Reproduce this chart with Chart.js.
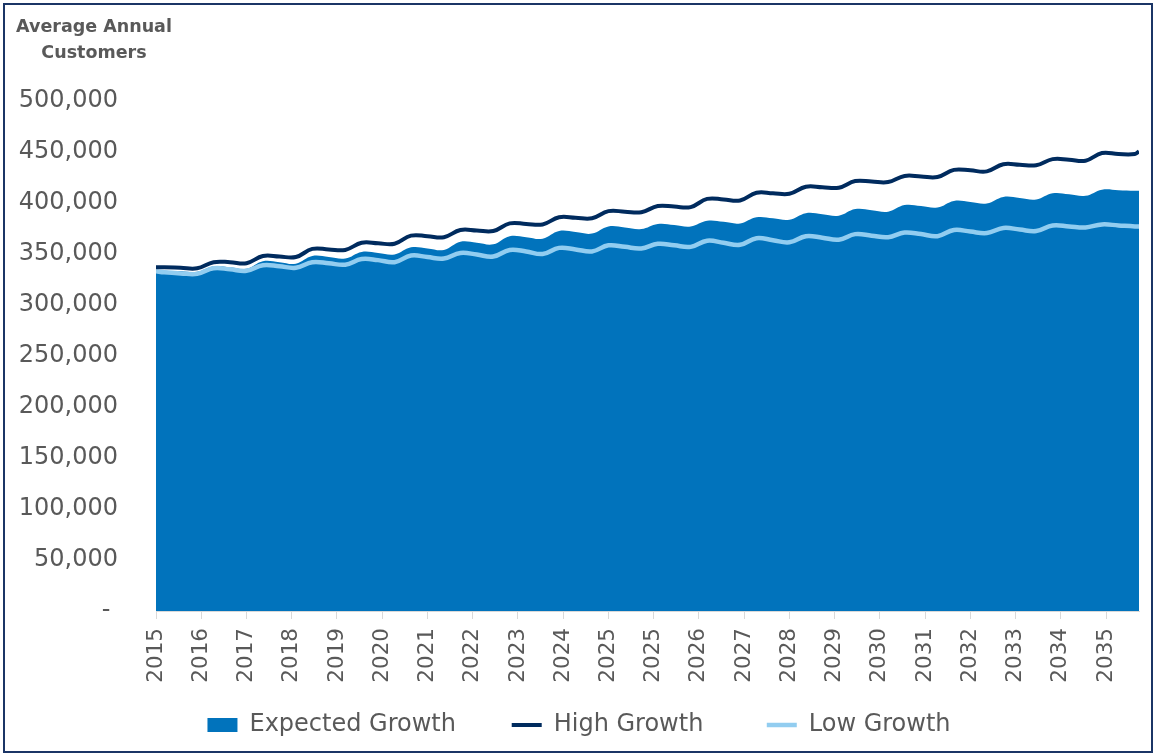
<!DOCTYPE html>
<html>
<head>
<meta charset="utf-8">
<script src="https://cdn.jsdelivr.net/npm/chart.js@4.4.0/dist/chart.umd.min.js"></script>
<style>
  body { margin: 0; background: #fff; }
  #wrap { position: relative; width: 1154px; height: 753px; }
  #frame { position: absolute; left: 3px; top: 3px; width: 1146px; height: 746px; border: 2px solid #1b3566; }
  #ytitle { position: absolute; left: 8px; top: 13px; width: 172px; text-align: center;
            font: bold 17.5px "DejaVu Sans"; line-height: 26px; color: #595959; }
  canvas { position: absolute; left: 0; top: 0; }
</style>
</head>
<body>
<div id="wrap">
  <canvas id="myChart" width="1154" height="753"></canvas>
  <div id="frame"></div>
  <div id="ytitle">Average Annual<br>Customers</div>
</div>
<script>
// month index of each point (0 = first month of the forecast)
var months = [0, 2, 6, 10, 14, 18, 22, 26, 30, 34, 38, 42, 46, 50, 54, 58, 62, 66, 70, 74,
  78, 82, 86, 90, 94, 98, 102, 106, 110, 114, 118, 122, 126, 130, 134, 138, 142, 146, 150, 154,
  158, 162, 166, 170, 174, 178, 182, 186, 190, 194, 198, 202, 206, 210, 214, 218, 222, 226, 230, 234,
  238, 239];

var expected = [334000, 333500, 333000, 332500, 338000, 337000, 335500, 343000, 342000, 340500,
  348000, 347000, 345500, 352000, 351000, 349500, 356500, 355500, 354000, 362000,
  361000, 359500, 367500, 366500, 365000, 372500, 371500, 370000, 377000, 376000,
  374500, 379500, 378500, 377000, 382500, 381500, 380000, 386000, 385000, 383500,
  390000, 389000, 387500, 394000, 393000, 391500, 398000, 397000, 395500, 402000,
  401000, 399500, 406000, 405000, 403500, 409500, 408500, 407000, 413000, 412500,
  412000, 412000];

var high = [337000, 337000, 336500, 336000, 342000, 342000, 341000, 348000, 347500, 347000,
  355000, 354500, 354000, 361000, 360500, 360000, 368000, 367500, 366500, 373500,
  373000, 372500, 380000, 379500, 379000, 386000, 385500, 385000, 392000, 391500,
  391000, 397000, 396500, 396000, 404000, 403500, 402500, 410000, 409500, 409000,
  416000, 415500, 415000, 421500, 421000, 420500, 426500, 426000, 425500, 432500,
  432000, 431000, 438000, 437500, 437000, 443000, 442500, 441500, 449000, 448000,
  448000, 450500];

var low = [333000, 332000, 331000, 330500, 336000, 335000, 333500, 339000, 338000, 336500,
  342000, 341000, 339500, 345000, 344000, 342000, 348500, 347000, 345500, 351000,
  349500, 347500, 354000, 352500, 350000, 356000, 354500, 352500, 358500, 357000,
  355500, 360000, 358500, 357000, 363000, 361000, 359000, 365500, 363500, 361500,
  367500, 366000, 364000, 369500, 368000, 366500, 371000, 369500, 367500, 373500,
  372000, 370500, 375500, 374000, 372500, 378000, 377000, 376000, 379000, 378000,
  377000, 377000];

// a year label every 11 months, as on the original axis
var tickLabels = ['2015', '2016', '2017', '2018', '2019', '2020', '2021', '2022', '2023', '2024',
  '2025', '2025', '2026', '2027', '2028', '2029', '2030', '2031', '2032', '2033', '2034', '2035'];

var seriesNames = ['Expected Growth', 'High Growth', 'Low Growth'];

function points(values) {
  return months.map(function (m, i) { return { x: m, y: values[i] }; });
}

var fontFamily = '"DejaVu Sans", sans-serif';
var textColor = '#595959';
var nb = '\u00a0';

var ctx = document.getElementById('myChart').getContext('2d');
var chart = new Chart(ctx, {
  type: 'line',
  data: {
    datasets: [{
      label: seriesNames[0],
      data: points(expected),
      backgroundColor: '#0173bc',
      borderColor: '#0173bc',
      borderWidth: 0,
      fill: 'origin',
      pointRadius: 0,
      pointStyle: 'rect',
      tension: 0.4,
      order: 3
    }, {
      label: seriesNames[1],
      data: points(high),
      borderColor: '#002b5e',
      backgroundColor: '#002b5e',
      borderWidth: 4,
      fill: false,
      pointRadius: 0,
      pointStyle: 'line',
      tension: 0.4,
      order: 1
    }, {
      label: seriesNames[2],
      data: points(low),
      borderColor: '#92cdf0',
      backgroundColor: '#92cdf0',
      borderWidth: 4.5,
      fill: false,
      pointRadius: 0,
      pointStyle: 'line',
      tension: 0.4,
      order: 2
    }]
  },
  options: {
    responsive: false,
    animation: false,
    layout: { padding: { left: 19, right: 15, top: 101, bottom: 6 } },
    plugins: {
      tooltip: { enabled: false },
      legend: {
        position: 'bottom',
        labels: {
          usePointStyle: true,
          pointStyleWidth: 30,
          boxHeight: 14,
          padding: 10,
          color: textColor,
          font: { family: fontFamily, size: 24 },
          generateLabels: function (c) {
            var items = Chart.defaults.plugins.legend.labels.generateLabels(c);
            items.sort(function (a, b) { return a.datasetIndex - b.datasetIndex; });
            // wider gaps between entries, like the original legend
            items[0].text += nb.repeat(6);
            items[1].text += nb.repeat(7);
            return items;
          }
        }
      }
    },
    scales: {
      x: {
        type: 'linear',
        min: 0,
        max: 239,
        afterFit: function (scale) { scale.height = 92; },
        ticks: {
          stepSize: 11,
          autoSkip: false,
          includeBounds: false,
          maxRotation: 90,
          minRotation: 90,
          padding: 9,
          color: textColor,
          font: { family: fontFamily, size: 21.5 },
          callback: function (v) { return tickLabels[Math.round(v / 11)]; }
        },
        grid: { drawOnChartArea: false, tickLength: 8, color: '#d9d9d9' },
        border: { color: '#d9d9d9', width: 1 }
      },
      y: {
        min: 0,
        max: 500000,
        afterFit: function (scale) { scale.width = 137; },
        ticks: {
          stepSize: 50000,
          padding: 38,
          color: textColor,
          font: { family: fontFamily, size: 24 },
          callback: function (v) { return v === 0 ? '-' + nb : v.toLocaleString('en-US'); }
        },
        grid: { display: false, drawTicks: false },
        border: { display: false }
      }
    }
  }
});
</script>
</body>
</html>
